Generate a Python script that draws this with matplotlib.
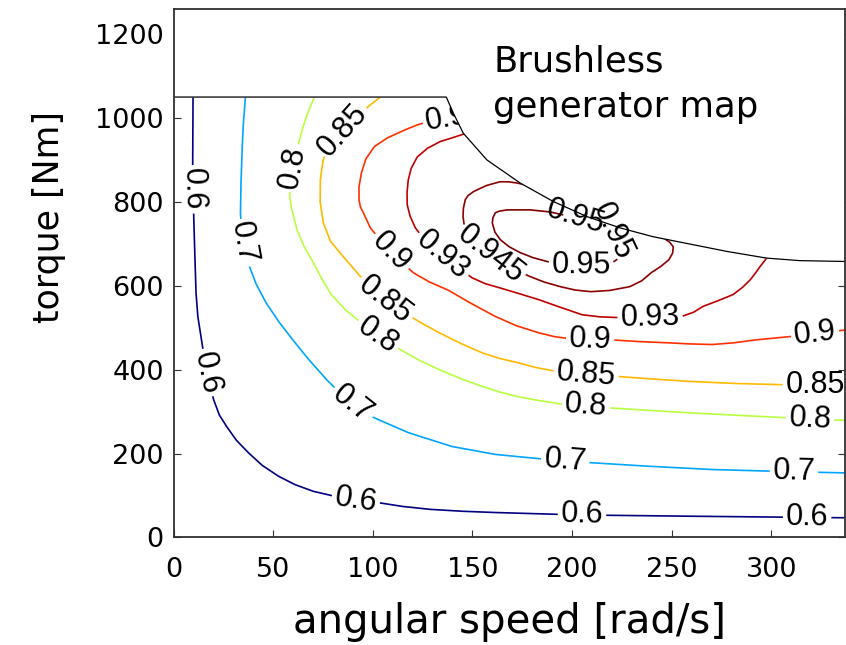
import numpy as np
import matplotlib
matplotlib.use("Agg")
import matplotlib.pyplot as plt
from matplotlib.contour import ContourSet
from matplotlib.colors import Normalize

plt.rcParams["font.family"] = ["DejaVu Sans"]

# Efficiency iso-lines of the brushless generator
# (angular speed in rad/s, torque in Nm)
eff_levels = [0.6, 0.7, 0.8, 0.85, 0.9, 0.93, 0.945, 0.95]

speed_060 = [9.8, 9.6, 10.0, 10.6, 11.3, 12.2, 14.8, 17.0, 20.1, 23.0, 26.6, 31.5,
             37.6, 44.5, 52.7, 61.0, 70.2, 81.1, 91.5, 102.8, 115.0, 128.9, 145.0,
             161.5, 194.1, 216.0, 259.3, 309.4, 337.0]
torque_060 = [1050, 869, 789, 690, 583, 527, 448, 390, 329, 292, 265, 232,
              202, 172, 146, 126, 110, 98, 90, 83, 74, 67, 62.5,
              59.5, 55, 53, 50.7, 48.3, 47]

speed_070 = [36.1, 35.1, 34.5, 33.9, 33.6, 34.1, 35.1, 36.2, 37.4, 41.4, 46.4,
             52.9, 59.9, 67.9, 76.9, 86.0, 98.5, 117.8, 139.7, 161.5, 187.6,
             207.1, 237.7, 270.3, 300.8, 322.8, 337.0]
torque_070 = [1050, 990, 932, 850, 774, 735, 702, 677, 655, 605, 560,
              514, 471, 424, 376, 333, 290, 250, 217, 198, 186,
              179, 170, 162, 158, 155.5, 154]

speed_080 = [70.7, 67.2, 64.5, 61.2, 58.7, 58.3, 59.2, 62.0, 65.5, 70.2, 74.4,
             79.2, 86.2, 94.2, 103.5, 113.8, 123.5, 133.4, 144.0, 155.0, 163.5,
             172.5, 184.0, 196.4, 218.2, 259.5, 309.4, 337.0]
torque_080 = [1050, 1010, 971, 912, 852, 815, 785, 733, 694, 655, 617,
              579, 543, 512, 479, 448, 422, 400, 379, 360, 347,
              336, 326, 317, 309, 297, 285, 279]

speed_085 = [103.8, 99.0, 94.6, 89.5, 84.8, 80.6, 77.1, 74.9, 73.7, 73.6, 75.2,
             78.8, 85.3, 95.3, 106.3, 115.8, 124.5, 133.4, 144.0, 155.0, 163.5,
             172.5, 182.0, 192.1, 207.0, 222.5, 240.0, 259.3, 283.0, 307.3, 337.0]
torque_085 = [1050, 1032, 1015, 993, 971, 950, 932, 895, 852, 800, 750,
              706, 669, 614, 567, 536, 511, 488, 463, 440, 427,
              417, 405, 396, 389, 384, 378, 372, 367, 364, 364]

speed_090 = [141.4, 135.0, 128.9, 122.0, 115.8, 107.5, 100.8, 96.5, 94.3, 93.1,
             93.1, 93.8, 95.3, 98.8, 105.1, 112.0, 120.4, 128.5, 137.7, 149.0,
             161.5, 172.0, 183.3, 191.0, 198.6, 209.0, 220.2, 234.0, 248.6, 259.0,
             270.3, 281.0, 292.1, 303.0, 313.8, 325.0, 337.5]
torque_090 = [1002, 998, 993, 983, 971, 953, 932, 902, 869, 836,
              805, 788, 774, 738, 702, 667, 631, 609, 590, 559,
              527, 505, 488, 479, 474, 471.5, 471, 467, 464, 461.5,
              460, 464, 471, 476, 481, 487, 495]

speed_093 = [145.8, 140.0, 133.9, 127.5, 122.3, 119.3, 117.8, 117.2, 117.3, 118.8,
             121.4, 124.8, 128.9, 138.9, 149.9, 156.5, 163.8, 173.0, 183.3, 194.0,
             205.1, 214.0, 224.7, 239.2, 248.0, 255.1, 261.0, 265.8, 273.0, 280.8,
             285.5, 289.4, 292.0, 294.4, 297.7]
torque_093 = [962, 953, 944, 928, 907, 880, 852, 822, 793, 765,
              738, 717, 698, 657, 619, 605, 595, 582, 567, 549,
              531, 526, 524, 524, 525, 527, 537, 551, 564, 579,
              596, 614, 630, 646, 666]

speed_0945 = [191.6, 187.5, 183.3, 178.0, 172.5, 168.0, 163.8, 157.0, 150.7, 147.8,
              146.4, 145.5, 145.3, 146.2, 148.9, 159.0, 169.0, 179.0, 186.0, 194.1,
              201.5, 209.4, 219.0, 229.0, 235.0, 239.7, 244.5, 248.6, 250.5, 250.8,
              249.0, 246.2]
torque_0945 = [799, 815, 829, 839, 845, 848, 848, 839, 825, 815,
               805, 785, 765, 735, 710, 676, 643, 622, 609, 598,
               590, 586, 589, 598, 612, 631, 646, 662, 678, 693,
               704, 713]

speed_095 = [195.6, 189.1, 179.0, 167.5, 163.5, 161.5, 160.3, 160.0, 161.3, 164.0,
             168.5, 174.0, 180.5, 187.4, 195.0, 204.1, 213.0, 220.2, 223.5, 224.7,
             225.3, 225.2, 224.5, 223.2, 220.5, 216.6, 212.8, 209.1, 205.3, 201.6,
             198.6, 195.6]
torque_095 = [769, 776, 781, 781, 778, 774, 762, 750, 728, 710,
              693, 679, 667, 658, 651, 648, 650, 655, 666, 679,
              690, 702, 711, 719, 729, 738, 746, 753, 759, 765,
              767.5, 769]

# Maximum torque envelope of the machine
speed_env = [0, 136.9, 140.4, 145.4, 157.3, 174.0, 190.6, 207.5, 224.2,
             240.7, 260.8, 277.7, 297.7, 314.4, 337.0]
torque_env = [1050, 1050, 1012, 964, 900, 845, 801, 765, 738,
              717, 698, 682, 666, 660, 658]

x_ticks = [0, 50, 100, 150, 200, 250, 300]
y_ticks = [0, 200, 400, 600, 800, 1000, 1200]

# Where each efficiency value is written on its line
label_spots = [
    (9.7, 830), (17.0, 393), (91.5, 90), (205, 54), (318, 48),
    (35.1, 702), (90.0, 320), (196.6, 183), (311.4, 157),
    (59.8, 881), (102.8, 484), (207, 313), (319.4, 283),
    (84.8, 971), (106.3, 567), (207.0, 389), (322, 364),
    (137, 999), (109.5, 682), (209.1, 472), (322, 486),
    (135, 672), (239.2, 524),
    (159, 676),
    (204.6, 648), (201.6, 765), (220.5, 729),
]

speeds = [speed_060, speed_070, speed_080, speed_085, speed_090,
          speed_093, speed_0945, speed_095]
torques = [torque_060, torque_070, torque_080, torque_085, torque_090,
           torque_093, torque_0945, torque_095]

fig = plt.figure(figsize=(8.46, 6.45), dpi=100)
ax = fig.add_axes([0.2051, 0.1667, 0.7937, 0.8194])
ax.set_xlim(0, 337)
ax.set_ylim(0, 1260)

segs = [[np.column_stack([s, t])] for s, t in zip(speeds, torques)]
line_colors = plt.cm.jet(Normalize(0.6, 0.95)(eff_levels))
cs = ContourSet(ax, eff_levels, segs, colors=line_colors, linewidths=1.2)

with plt.rc_context({"font.family": ["Liberation Sans"]}):
    labels = ax.clabel(cs, manual=label_spots, inline=True, inline_spacing=3,
                       fmt=lambda v: f"{v:g}", colors="k", fontsize=22)
# the two crowded labels next to the torque limit stay on top of the blank area
for t in labels[-2:]:
    t.set_zorder(4.55)

# Region beyond the torque limit is blanked out
ax.fill_between(speed_env, torque_env, 1400, color="white", linewidth=0, zorder=4.5)
ax.plot(speed_env, torque_env, color="k", lw=0.9, zorder=4.6)

ax.text(0.4758, 0.8814, "Brushless", transform=ax.transAxes, fontsize=25.5,
        va="baseline", ha="left", zorder=6)
ax.text(0.4758, 0.7962, "generator map", transform=ax.transAxes, fontsize=25.5,
        va="baseline", ha="left", zorder=6)

ax.set_xticks(x_ticks)
ax.set_yticks(y_ticks)
ax.tick_params(direction="in", top=True, right=True, length=5, width=0.8,
               labelsize=19.5, color="#333333")
ax.tick_params(axis="y", pad=7)
ax.tick_params(axis="x", pad=14)

for sp in ax.spines.values():
    sp.set_zorder(5)
    sp.set_linewidth(1.3)
    sp.set_color("#303030")

ax.set_xlabel("angular speed [rad/s]", fontsize=29)
ax.xaxis.set_label_coords(0.5, -0.122)
ax.set_ylabel("torque [Nm]", fontsize=25)
ax.yaxis.set_label_coords(-0.160, 0.6055)

fig.savefig("out.png", dpi=100)
